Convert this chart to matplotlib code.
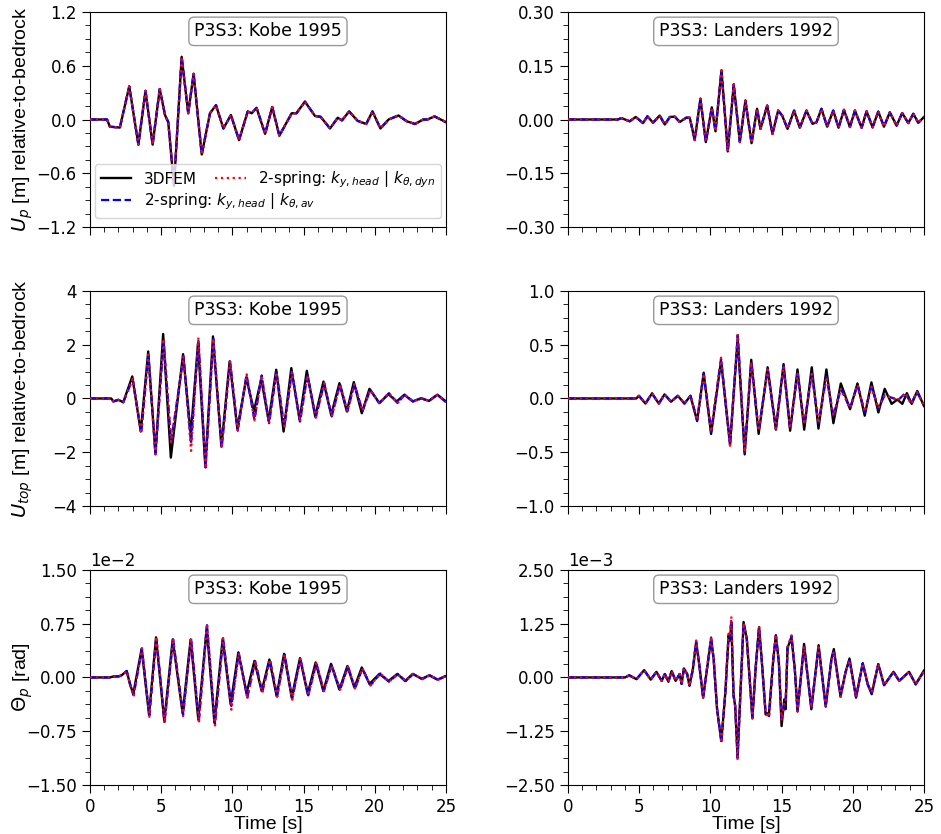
import numpy as np
import matplotlib
matplotlib.use("Agg")
import matplotlib.pyplot as plt
from matplotlib.ticker import MultipleLocator, AutoMinorLocator

# (time [s], value) pairs
kobe_up_fem = [[0, 0], [1.2, 0], [1.4, -0.08], [2.1, -0.09], [2.76, 0.37], [3.4, -0.28], [3.9, 0.32],
               [4.4, -0.28], [4.9, 0.34], [5.27, 0.05], [5.5, -0.03], [5.9, -0.74], [6.44, 0.70],
               [6.9, 0.07], [7.28, 0.51], [7.85, -0.39], [8.43, 0.07], [8.85, 0.16], [9.37, -0.10],
               [9.9, 0.05], [10.47, -0.23], [11.08, 0.09], [11.36, 0.07], [11.7, 0.13], [12.3, -0.16],
               [12.8, 0.14], [13.3, -0.18], [14.17, 0.07], [14.5, 0.07], [15.1, 0.20], [15.8, 0.04],
               [16.2, 0.03], [16.86, -0.10], [17.4, 0.02], [17.7, -0.01], [18.2, 0.09], [18.8, -0.015],
               [19.4, -0.05], [19.84, 0.09], [20.4, -0.10], [20.97, 0.0], [21.67, 0.045], [22.25, -0.02],
               [22.83, -0.05], [23.4, 0.0], [23.7, 0.0], [24.2, 0.035], [25, -0.03]]
kobe_up_av = kobe_up_fem
kobe_up_dyn = kobe_up_fem

landers_up_fem = [[0, 0], [3.5, 0], [3.75, 0.004], [4.33, -0.005], [4.76, 0.007], [5.27, -0.010],
                  [5.58, 0.009], [5.97, -0.009], [6.44, 0.011], [6.8, -0.014], [7.15, 0.007], [7.5, 0.008],
                  [7.85, -0.007], [8.3, 0.005], [8.55, 0.005], [8.9, -0.057], [9.3, 0.058], [9.68, -0.063],
                  [10.1, 0.034], [10.36, -0.033], [10.78, 0.137], [11.22, -0.089], [11.64, 0.098],
                  [12.07, -0.063], [12.46, 0.053], [12.89, -0.066], [13.28, 0.030], [13.52, -0.026],
                  [13.99, 0.039], [14.36, -0.040], [14.76, 0.025], [15.04, 0.011], [15.42, -0.026],
                  [15.88, 0.025], [16.28, -0.023], [16.75, 0.025], [17.17, -0.012], [17.45, -0.008],
                  [17.8, 0.030], [18.2, -0.020], [18.63, 0.025], [19.0, -0.023], [19.38, 0.027],
                  [19.8, -0.021], [20.15, 0.025], [20.62, -0.023], [20.97, 0.023], [21.39, -0.022],
                  [21.79, 0.022], [22.19, -0.020], [22.6, 0.020], [23.08, -0.017], [23.47, 0.018],
                  [23.9, -0.010], [24.25, 0.016], [24.6, -0.009], [25, 0.007]]
landers_up_av = landers_up_fem
landers_up_dyn = landers_up_fem

kobe_top_fem = [[0, 0], [1.5, 0], [1.64, -0.11], [2.0, -0.05], [2.34, -0.14], [2.97, 0.82], [3.57, -1.23],
                [4.09, 1.75], [4.6, -2.07], [5.14, 2.40], [5.68, -2.20], [6.54, 1.65], [7.08, -1.35],
                [7.59, 2.06], [8.1, -2.53], [8.64, 2.31], [9.23, -1.79], [9.81, 1.38], [10.35, -1.13],
                [10.98, 0.76], [11.52, -0.46], [12.03, 0.72], [12.55, -0.83], [13.08, 1.07], [13.6, -1.23],
                [14.14, 1.13], [14.72, -0.79], [15.23, 1.03], [15.82, -0.67], [16.4, 0.63], [16.94, -0.61],
                [17.52, 0.57], [18.04, -0.48], [18.53, 0.61], [19.09, -0.55], [19.63, 0.36], [20.33, -0.17],
                [20.96, 0.16], [21.54, -0.11], [22.08, 0.14], [22.66, -0.11], [23.25, 0.01], [23.8, -0.09],
                [24.4, 0.14], [25, -0.11]]
kobe_top_av = [[0, 0], [1.5, 0], [1.64, -0.11], [2.0, -0.05], [2.34, -0.14], [3.0, 0.73], [3.6, -1.29],
               [4.1, 1.63], [4.6, -2.07], [5.17, 2.12], [5.7, -1.60], [6.57, 1.56], [7.1, -1.70],
               [7.62, 2.18], [8.12, -2.57], [8.66, 2.22], [9.25, -1.83], [9.84, 1.38], [10.38, -1.19],
               [11.0, 0.88], [11.55, -0.80], [12.06, 0.86], [12.58, -0.92], [13.1, 0.98], [13.65, -1.04],
               [14.18, 0.98], [14.75, -0.86], [15.27, 0.86], [15.86, -0.71], [16.45, 0.57], [16.98, -0.67],
               [17.56, 0.53], [18.08, -0.48], [18.57, 0.53], [19.14, -0.46], [19.68, 0.32], [20.3, -0.17],
               [21.0, 0.20], [21.6, -0.17], [22.1, 0.14], [22.7, -0.11], [23.3, 0.0], [23.8, -0.09],
               [24.4, 0.14], [25, -0.14]]
kobe_top_dyn = [[0, 0], [1.5, 0], [1.64, -0.11], [2.0, -0.05], [2.34, -0.14], [3.0, 0.73], [3.6, -1.30],
                [4.1, 1.63], [4.6, -2.08], [5.17, 2.22], [5.7, -1.62], [6.57, 1.56], [7.1, -1.95],
                [7.62, 2.27], [8.12, -2.60], [8.66, 2.24], [9.25, -1.85], [9.84, 1.40], [10.38, -1.20],
                [11.0, 0.90], [11.55, -0.82], [12.06, 0.86], [12.58, -0.92], [13.1, 0.98], [13.65, -1.04],
                [14.18, 0.98], [14.75, -0.86], [15.27, 0.86], [15.86, -0.71], [16.45, 0.57], [16.98, -0.67],
                [17.56, 0.53], [18.08, -0.48], [18.57, 0.53], [19.14, -0.46], [19.68, 0.32], [20.3, -0.17],
                [21.0, 0.20], [21.6, -0.17], [22.1, 0.14], [22.7, -0.11], [23.3, 0.0], [23.8, -0.09],
                [24.4, 0.14], [25, -0.14]]

landers_top_fem = [[0, 0], [4.8, 0], [4.98, 0.025], [5.44, -0.047], [5.9, 0.047], [6.38, -0.047],
                   [6.78, 0.038], [7.24, -0.03], [7.71, 0.025], [8.18, -0.047], [8.6, 0.025], [9.07, -0.21],
                   [9.53, 0.24], [10.05, -0.33], [10.75, 0.35], [11.38, -0.43], [11.92, 0.56], [12.41, -0.52],
                   [12.87, 0.36], [13.39, -0.33], [14.02, 0.29], [14.6, -0.29], [15.14, 0.32], [15.6, -0.30],
                   [16.12, 0.27], [16.59, -0.29], [17.12, 0.29], [17.59, -0.28], [18.15, 0.27], [18.64, -0.23],
                   [19.16, 0.14], [19.81, -0.10], [20.33, 0.14], [20.84, -0.16], [21.31, 0.15], [21.8, -0.13],
                   [22.24, 0.09], [22.73, -0.05], [23.13, -0.01], [23.48, -0.05], [23.8, 0.05], [24.14, -0.05],
                   [24.53, 0.07], [25, -0.07]]
landers_top_av = [[0, 0], [4.8, 0], [4.98, 0.025], [5.44, -0.047], [5.9, 0.047], [6.38, -0.047],
                  [6.78, 0.038], [7.24, -0.03], [7.71, 0.025], [8.18, -0.047], [8.6, 0.025], [9.07, -0.20],
                  [9.53, 0.23], [10.05, -0.31], [10.75, 0.37], [11.38, -0.43], [11.92, 0.59], [12.41, -0.50],
                  [12.87, 0.34], [13.39, -0.30], [14.02, 0.27], [14.6, -0.28], [15.14, 0.30], [15.6, -0.28],
                  [16.12, 0.23], [16.59, -0.24], [17.12, 0.23], [17.59, -0.23], [18.15, 0.20], [18.64, -0.16],
                  [19.16, 0.09], [19.81, -0.09], [20.33, 0.125], [20.84, -0.125], [21.31, 0.11], [21.8, -0.09],
                  [22.24, 0.03], [22.9, 0.0], [23.1, -0.025], [23.7, 0.05], [24.1, -0.05], [24.5, 0.06],
                  [25, -0.06]]
landers_top_dyn = [[0, 0], [4.8, 0], [4.98, 0.025], [5.44, -0.047], [5.9, 0.047], [6.38, -0.047],
                   [6.78, 0.038], [7.24, -0.03], [7.71, 0.025], [8.18, -0.047], [8.6, 0.025], [9.07, -0.20],
                   [9.53, 0.23], [10.05, -0.31], [10.75, 0.38], [11.38, -0.44], [11.92, 0.60], [12.41, -0.50],
                   [12.87, 0.34], [13.39, -0.30], [14.02, 0.27], [14.6, -0.28], [15.14, 0.30], [15.6, -0.28],
                   [16.12, 0.23], [16.59, -0.24], [17.12, 0.23], [17.59, -0.23], [18.15, 0.20], [18.64, -0.16],
                   [19.16, 0.09], [19.81, -0.09], [20.33, 0.125], [20.84, -0.125], [21.31, 0.11], [21.8, -0.09],
                   [22.24, 0.03], [22.9, 0.0], [23.1, -0.025], [23.7, 0.05], [24.1, -0.05], [24.5, 0.06],
                   [25, -0.06]]

# rotations, in units of 1e-2 rad (Kobe) and 1e-3 rad (Landers)
kobe_theta_fem = [[0, 0], [1.4, 0], [1.64, 0.014], [2.0, 0.014], [2.22, 0.03], [2.58, 0.09], [2.81, -0.09],
                  [3.04, -0.23], [3.63, 0.40], [4.15, -0.52], [4.64, 0.56], [5.22, -0.61], [5.81, 0.53],
                  [6.51, -0.50], [7.07, 0.53], [7.61, -0.59], [8.2, 0.70], [8.74, -0.63], [9.32, 0.54],
                  [9.88, -0.375], [10.42, 0.35], [11.0, -0.22], [11.55, 0.23], [12.06, -0.19], [12.6, 0.25],
                  [13.11, -0.26], [13.63, 0.33], [14.17, -0.28], [14.75, 0.27], [15.29, -0.23], [15.85, 0.21],
                  [16.39, -0.19], [16.93, 0.19], [17.52, -0.17], [18.08, 0.16], [18.57, -0.14], [19.09, 0.14],
                  [19.63, -0.09], [20.33, 0.05], [20.96, -0.05], [21.59, 0.05], [22.13, -0.05], [22.67, 0.05],
                  [23.3, -0.02], [23.82, 0.03], [24.4, -0.03], [25, 0.02]]
kobe_theta_av = [[0, 0], [1.4, 0], [1.64, 0.014], [2.0, 0.014], [2.22, 0.03], [2.58, 0.09], [2.81, -0.09],
                 [3.07, -0.25], [3.65, 0.40], [4.17, -0.53], [4.66, 0.56], [5.24, -0.62], [5.84, 0.53],
                 [6.54, -0.52], [7.1, 0.54], [7.65, -0.61], [8.22, 0.73], [8.78, -0.65], [9.35, 0.54],
                 [9.93, -0.40], [10.45, 0.34], [11.05, -0.28], [11.6, 0.23], [12.1, -0.21], [12.64, 0.25],
                 [13.15, -0.26], [13.67, 0.32], [14.2, -0.30], [14.78, 0.26], [15.33, -0.25], [15.9, 0.20],
                 [16.43, -0.19], [16.97, 0.17], [17.57, -0.17], [18.12, 0.155], [18.62, -0.155], [19.13, 0.127],
                 [19.7, -0.11], [20.4, 0.056], [21.0, -0.06], [21.63, 0.047], [22.18, -0.05], [22.7, 0.047],
                 [23.35, -0.023], [23.85, 0.033], [24.45, -0.033], [25, 0.023]]
kobe_theta_dyn = [[0, 0], [1.4, 0], [1.64, 0.014], [2.0, 0.014], [2.22, 0.03], [2.58, 0.09], [2.81, -0.09],
                  [3.07, -0.26], [3.65, 0.41], [4.17, -0.55], [4.66, 0.57], [5.24, -0.64], [5.84, 0.54],
                  [6.54, -0.54], [7.1, 0.55], [7.65, -0.63], [8.22, 0.75], [8.78, -0.67], [9.35, 0.55],
                  [9.93, -0.45], [10.45, 0.34], [11.05, -0.30], [11.6, 0.23], [12.1, -0.21], [12.64, 0.25],
                  [13.15, -0.27], [13.67, 0.32], [14.2, -0.31], [14.78, 0.26], [15.33, -0.25], [15.9, 0.20],
                  [16.43, -0.19], [16.97, 0.17], [17.57, -0.17], [18.12, 0.155], [18.62, -0.155], [19.13, 0.127],
                  [19.7, -0.11], [20.4, 0.056], [21.0, -0.06], [21.63, 0.047], [22.18, -0.05], [22.7, 0.047],
                  [23.35, -0.023], [23.85, 0.033], [24.45, -0.033], [25, 0.023]]

landers_theta_fem = [[0, 0], [4.0, 0], [4.3, 0.05], [4.81, -0.04], [5.35, 0.17], [5.81, -0.05], [6.21, 0.13],
                     [6.58, -0.08], [6.8, 0.08], [7.05, -0.10], [7.28, 0.15], [7.56, -0.08], [7.84, 0.08],
                     [7.98, -0.15], [8.14, 0.21], [8.37, 0.08], [8.53, -0.19], [8.77, 0.19], [9.0, 0.82],
                     [9.23, 0.27], [9.49, -0.47], [10.05, 0.89], [10.23, 0.43], [10.47, -0.74], [10.77, -1.48],
                     [11.05, -0.35], [11.28, 0.97], [11.38, 0.86], [11.47, 1.28], [11.63, -0.43], [11.74, -0.66],
                     [11.91, -1.83], [12.09, -0.51], [12.33, 1.29], [12.56, 0.89], [12.95, -0.94], [13.19, 0.27],
                     [13.42, 1.17], [13.6, 0.43], [13.88, -0.86], [14.12, -0.82], [14.42, 0.43], [14.6, 0.98],
                     [14.81, 0.35], [15.0, -1.13], [15.19, -0.51], [15.28, -0.74], [15.42, 0.70], [15.7, 0.91],
                     [15.93, 0.19], [16.12, -0.78], [16.58, 0.78], [17.09, -0.74], [17.6, 0.75], [18.1, -0.68],
                     [18.5, 0.43], [18.67, 0.66], [19.14, -0.43], [19.49, 0.12], [19.77, 0.44], [20.23, -0.47],
                     [20.7, 0.33], [21.05, -0.16], [21.33, -0.39], [21.79, 0.31], [22.2, -0.18], [22.86, 0.13],
                     [23.26, -0.08], [23.95, 0.13], [24.42, -0.16], [25, 0.16]]
landers_theta_av = [[0, 0], [4.0, 0], [4.3, 0.05], [4.81, -0.04], [5.35, 0.17], [5.81, -0.05], [6.21, 0.13],
                    [6.58, -0.08], [6.8, 0.08], [7.05, -0.10], [7.28, 0.15], [7.56, -0.08], [7.84, 0.08],
                    [7.98, -0.15], [8.14, 0.21], [8.37, 0.08], [8.53, -0.19], [8.77, 0.19], [9.0, 0.84],
                    [9.23, 0.27], [9.49, -0.47], [10.05, 0.93], [10.23, 0.43], [10.47, -0.74], [10.77, -1.50],
                    [11.05, -0.35], [11.28, 1.00], [11.38, 0.95], [11.47, 1.35], [11.63, -0.43], [11.74, -0.66],
                    [11.91, -1.87], [12.09, -0.51], [12.33, 1.25], [12.56, 0.89], [12.95, -0.94], [13.19, 0.27],
                    [13.42, 1.17], [13.6, 0.43], [13.88, -0.82], [14.12, -0.90], [14.42, 0.43], [14.6, 0.98],
                    [14.81, 0.35], [15.0, -0.95], [15.19, -0.62], [15.28, -0.62], [15.42, 0.70], [15.7, 0.96],
                    [15.93, 0.19], [16.12, -0.78], [16.58, 0.72], [17.09, -0.70], [17.6, 0.70], [18.1, -0.66],
                    [18.5, 0.40], [18.67, 0.60], [19.14, -0.45], [19.49, 0.12], [19.77, 0.40], [20.23, -0.45],
                    [20.7, 0.33], [21.05, -0.16], [21.33, -0.35], [21.79, 0.31], [22.2, -0.18], [22.86, 0.13],
                    [23.26, -0.08], [23.95, 0.13], [24.42, -0.16], [25, 0.14]]
landers_theta_dyn = [[0, 0], [4.0, 0], [4.3, 0.05], [4.81, -0.04], [5.35, 0.17], [5.81, -0.05], [6.21, 0.13],
                     [6.58, -0.08], [6.8, 0.08], [7.05, -0.10], [7.28, 0.15], [7.56, -0.08], [7.84, 0.08],
                     [7.98, -0.15], [8.14, 0.21], [8.37, 0.08], [8.53, -0.19], [8.77, 0.19], [9.0, 0.86],
                     [9.23, 0.27], [9.49, -0.47], [10.05, 0.95], [10.23, 0.43], [10.47, -0.74], [10.77, -1.52],
                     [11.05, -0.35], [11.28, 1.02], [11.38, 0.97], [11.47, 1.42], [11.63, -0.43], [11.74, -0.66],
                     [11.91, -1.93], [12.09, -0.51], [12.33, 1.27], [12.56, 0.89], [12.95, -0.96], [13.19, 0.27],
                     [13.42, 1.19], [13.6, 0.43], [13.88, -0.84], [14.12, -0.92], [14.42, 0.43], [14.6, 1.00],
                     [14.81, 0.35], [15.0, -1.00], [15.19, -0.62], [15.28, -0.62], [15.42, 0.70], [15.7, 0.98],
                     [15.93, 0.19], [16.12, -0.80], [16.58, 0.72], [17.09, -0.70], [17.6, 0.70], [18.1, -0.66],
                     [18.5, 0.40], [18.67, 0.60], [19.14, -0.45], [19.49, 0.12], [19.77, 0.40], [20.23, -0.45],
                     [20.7, 0.33], [21.05, -0.16], [21.33, -0.35], [21.79, 0.31], [22.2, -0.18], [22.86, 0.13],
                     [23.26, -0.08], [23.95, 0.13], [24.42, -0.16], [25, 0.14]]

titles = ["P3S3: Kobe 1995", "P3S3: Landers 1992"]
ylabels = [r"$U_p$ [m] relative-to-bedrock", r"$U_{top}$ [m] relative-to-bedrock", r"$\Theta_p$ [rad]"]
ylims = [[1.2, 0.30], [4, 1.0], [1.5e-2, 2.5e-3]]
scales = [[1, 1], [1, 1], [1e-2, 1e-3]]
panels = [[(kobe_up_fem, kobe_up_av, kobe_up_dyn), (landers_up_fem, landers_up_av, landers_up_dyn)],
          [(kobe_top_fem, kobe_top_av, kobe_top_dyn), (landers_top_fem, landers_top_av, landers_top_dyn)],
          [(kobe_theta_fem, kobe_theta_av, kobe_theta_dyn), (landers_theta_fem, landers_theta_av, landers_theta_dyn)]]

labels = ["3DFEM", r"2-spring: $k_{y,head}$ | $k_{\theta,av}$", r"2-spring: $k_{y,head}$ | $k_{\theta,dyn}$"]

fig = plt.figure(figsize=(9.41, 8.34), dpi=100)
lefts = [0.0956, 0.6036]
bottoms = [0.7278, 0.3933, 0.0588]
label_font = {"family": ["Liberation Sans", "DejaVu Sans"], "size": 14}

for r in range(3):
    for c in range(2):
        ax = fig.add_axes([lefts[c], bottoms[r], 0.3783, 0.2578])
        fem, av, dyn = [np.array(d) for d in panels[r][c]]
        s = scales[r][c]
        l1, = ax.plot(fem[:, 0], fem[:, 1] * s, color="k", lw=1.7, zorder=2)
        l2, = ax.plot(av[:, 0], av[:, 1] * s, color="b", ls="--", lw=1.6, zorder=3)
        l3, = ax.plot(dyn[:, 0], dyn[:, 1] * s, color="r", ls=":", lw=1.6, zorder=4)
        lim = ylims[r][c]
        ax.set_ylim(-lim, lim)
        ax.set_xlim(0, 25)
        ax.yaxis.set_major_locator(MultipleLocator(lim / 2))
        ax.yaxis.set_minor_locator(AutoMinorLocator(4))
        ax.xaxis.set_major_locator(MultipleLocator(5))
        ax.xaxis.set_minor_locator(MultipleLocator(1))
        ax.tick_params(which="major", direction="out", length=6, labelsize=12)
        ax.tick_params(which="minor", direction="out", length=3.5)
        if r == 2:
            ax.ticklabel_format(axis="y", style="sci", scilimits=(0, 0))
            ax.yaxis.get_offset_text().set_fontsize(12)
            ax.set_xlabel("Time [s]", fontdict=label_font, labelpad=0)
        else:
            ax.set_xticklabels([])
        if c == 0:
            ax.set_ylabel(ylabels[r], fontdict=label_font)
            ax.yaxis.set_label_coords(-0.155, 0.5)
        ax.text(0.5, 0.91, titles[c], transform=ax.transAxes, ha="center", va="center", fontsize=12.5,
                bbox=dict(boxstyle="round,pad=0.3", fc="white", ec="0.6"), zorder=5)
        if r == 0 and c == 0:
            ax.legend([l1, l2, l3], labels, ncol=2, loc="lower center", fontsize=11,
                      handlelength=2.0, handletextpad=0.8, columnspacing=-6.5,
                      borderaxespad=0.6, labelspacing=0.3)

fig.savefig("out.png", dpi=100)
